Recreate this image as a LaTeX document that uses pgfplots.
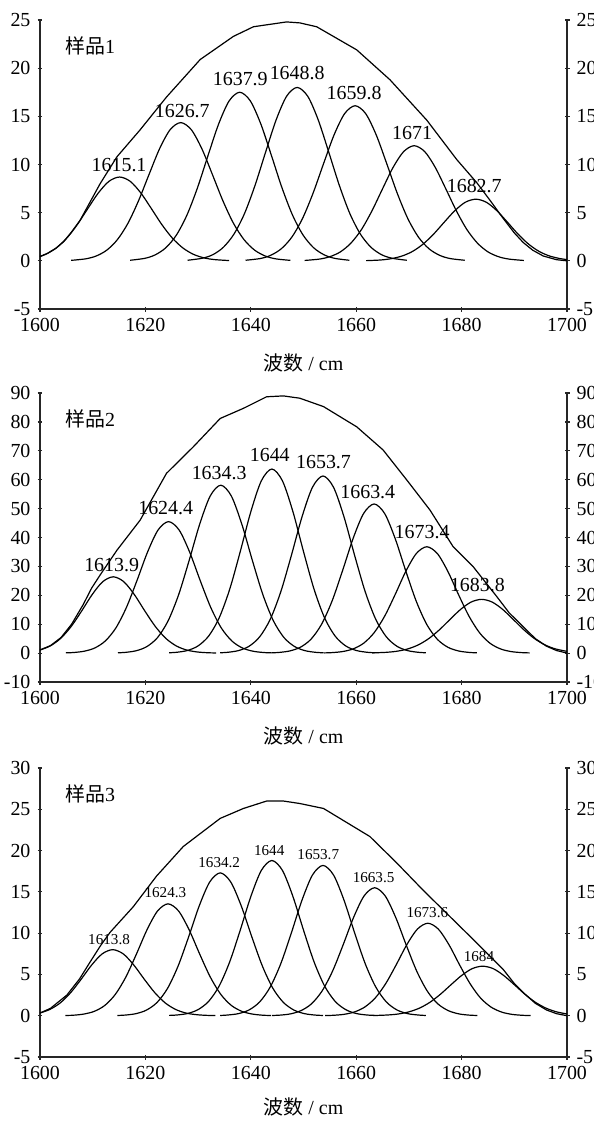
\documentclass[border=0pt]{standalone}
\usepackage{pgfplots}
\pgfplotsset{compat=1.18}
\usepackage{fontspec}
\setmainfont{Liberation Serif}
\newfontfamily\cjk{Noto Sans CJK SC}
\pgfplotsset{
  base/.style={scale only axis, width=263.5bp, height=144.5bp,
    xmin=1600, xmax=1700, xtick={1600,1620,...,1700},
    tick align=inside, major tick length=2.5bp,
    every tick/.style={black!85, line width=0.6bp},
    tick label style={font=\fontsize{10}{12}\selectfont},
    /pgf/number format/assume math mode=true,
    /pgf/number format/1000 sep={},
    clip=false},
  mainax/.style={base, axis x line=bottom, axis y line=left,
    axis line style={-, black!85, line width=0.6bp},
    x axis line style={-}, y axis line style={-},
    xlabel={{\cjk 波数} / cm},
    xlabel style={at={(axis description cs:0.5,0)}, anchor=center, yshift=-27bp, font=\fontsize{10}{12}\selectfont}},
  rightax/.style={base, axis x line=none, axis y line=right, xtick=\empty,
    axis line style={-, black!85, line width=0.6bp},
    x axis line style={-}, y axis line style={-}},
  cv/.style={black, line width=0.6bp, smooth, no markers},
  env/.style={black, line width=0.6bp, no markers}
}
\tikzset{
  pl/.style={anchor=base, font=\fontsize{10}{12}\selectfont, inner sep=0pt},
  pls/.style={anchor=base, font=\fontsize{7.6}{9}\selectfont, inner sep=0pt},
  samp/.style={anchor=west, font=\fontsize{10}{12}\selectfont, inner sep=0pt}
}
\begin{document}
\begin{tikzpicture}
\path[use as bounding box] (-20bp,-406.5bp) rectangle (277bp,154.5bp);
% ---------------- Panel 1 ----------------
\begin{axis}[rightax, at={(0,0)}, ymin=-5, ymax=25, ytick={-5,0,...,25}]
\end{axis}
\begin{axis}[mainax, at={(0,0)}, ymin=-5, ymax=25, ytick={-5,0,...,25}]
\addplot[env] coordinates {(1600,0.45) (1601.5,0.8) (1603,1.3) (1604.5,2.0) (1606,3.0) (1607.6,4.2) (1609.2,5.8) (1611.4,8.0) (1614.6,10.8) (1619.0,13.6) (1624.0,17.0) (1630.4,20.9) (1636.7,23.3) (1640.5,24.3) (1643.0,24.5) (1646.8,24.8) (1649.3,24.7) (1652.5,24.3) (1660.1,21.9) (1666.4,18.8) (1673.4,14.6) (1679.1,10.5) (1682.9,8.1) (1685.5,6.2) (1687.9,4.4) (1690,2.9) (1691.7,1.9) (1693.5,1.1) (1695.5,0.5) (1698,0.12) (1700,0)};
\addplot[cv] coordinates {(1600,0.45) (1601.1,0.68) (1603.1,1.34) (1605.1,2.37) (1607.1,3.78) (1609.1,5.45) (1611.1,7.07) (1613.1,8.26) (1615.1,8.7) (1617.1,8.26) (1619.1,7.07) (1621.1,5.45) (1623.1,3.78) (1625.1,2.37) (1627.1,1.34) (1629.1,0.68) (1631.1,0.31) (1633.1,0.13) (1635.9,0.03)};
\addplot[cv] coordinates {(1605.9,0.05) (1608.7,0.21) (1610.7,0.51) (1612.7,1.12) (1614.7,2.21) (1616.7,3.91) (1618.7,6.24) (1620.7,8.98) (1622.7,11.65) (1624.7,13.62) (1626.7,14.35) (1628.7,13.62) (1630.7,11.65) (1632.7,8.98) (1634.7,6.24) (1636.7,3.91) (1638.7,2.21) (1640.7,1.12) (1642.7,0.51) (1644.7,0.21) (1647.5,0.05)};
\addplot[cv] coordinates {(1617.1,0.06) (1619.9,0.26) (1621.9,0.63) (1623.9,1.37) (1625.9,2.69) (1627.9,4.77) (1629.9,7.61) (1631.9,10.96) (1633.9,14.21) (1635.9,16.61) (1637.9,17.5) (1639.9,16.61) (1641.9,14.21) (1643.9,10.96) (1645.9,7.61) (1647.9,4.77) (1649.9,2.69) (1651.9,1.37) (1653.9,0.63) (1655.9,0.26) (1658.7,0.06)};
\addplot[cv] coordinates {(1628.0,0.06) (1630.8,0.27) (1632.8,0.64) (1634.8,1.41) (1636.8,2.77) (1638.8,4.90) (1640.8,7.83) (1642.8,11.27) (1644.8,14.62) (1646.8,17.09) (1648.8,18.0) (1650.8,17.09) (1652.8,14.62) (1654.8,11.27) (1656.8,7.83) (1658.8,4.90) (1660.8,2.77) (1662.8,1.41) (1664.8,0.64) (1666.8,0.27) (1669.6,0.06)};
\addplot[cv] coordinates {(1639.0,0.06) (1641.8,0.24) (1643.8,0.58) (1645.8,1.26) (1647.8,2.47) (1649.8,4.38) (1651.8,7.00) (1653.8,10.08) (1655.8,13.07) (1657.8,15.28) (1659.8,16.1) (1661.8,15.28) (1663.8,13.07) (1665.8,10.08) (1667.8,7.00) (1669.8,4.38) (1671.8,2.47) (1673.8,1.26) (1675.8,0.58) (1677.8,0.24) (1680.6,0.06)};
\addplot[cv] coordinates {(1650.2,0.04) (1653,0.18) (1655,0.43) (1657,0.93) (1659,1.84) (1661,3.25) (1663,5.20) (1665,7.48) (1667,9.70) (1669,11.34) (1671,11.95) (1673,11.34) (1675,9.70) (1677,7.48) (1679,5.20) (1681,3.25) (1683,1.84) (1685,0.93) (1687,0.43) (1689,0.18) (1691.8,0.04)};
\addplot[cv] coordinates {(1661.9,0.02) (1664.7,0.09) (1666.7,0.23) (1668.7,0.50) (1670.7,0.98) (1672.7,1.74) (1674.7,2.78) (1676.7,4.01) (1678.7,5.20) (1680.7,6.08) (1682.7,6.4) (1684.7,6.08) (1686.7,5.20) (1688.7,4.01) (1690.7,2.78) (1692.7,1.74) (1694.7,0.98) (1696.7,0.50) (1698.7,0.23) (1700,0.13)};
\node[pl] at (axis cs:1615.0,9.26) {1615.1};
\node[pl] at (axis cs:1627.0,14.91) {1626.7};
\node[pl] at (axis cs:1638.0,18.15) {1637.9};
\node[pl] at (axis cs:1648.8,18.78) {1648.8};
\node[pl] at (axis cs:1659.6,16.70) {1659.8};
\node[pl] at (axis cs:1670.6,12.55) {1671};
\node[pl] at (axis cs:1682.4,7.08) {1682.7};
\node[samp] at (axis description cs:0.047,0.912) {{\cjk 样品}1};
\end{axis}
% ---------------- Panel 2 ----------------
\begin{axis}[rightax, at={(0,-186.5bp)}, ymin=-10, ymax=90, ytick={-10,0,...,90}]
\end{axis}
\begin{axis}[mainax, at={(0,-186.5bp)}, ymin=-10, ymax=90, ytick={-10,0,...,90}]
\addplot[env] coordinates {(1600,1.1) (1602,2.6) (1604,5.4) (1606,10.0) (1608.2,16.8) (1609.8,22.5) (1611.4,27.0) (1614.6,35.6) (1619.0,46.0) (1624.0,62.2) (1629.1,71.4) (1634.2,81.2) (1638.6,84.7) (1643.0,88.7) (1646.2,89.0) (1649.3,88.2) (1653.8,85.3) (1660.1,78.3) (1665.1,70.3) (1669.6,59.9) (1674.0,49.5) (1678.4,36.8) (1682.2,29.9) (1686.7,19.5) (1689,14.0) (1691.7,9.1) (1694,5.0) (1696.1,2.4) (1698,0.9) (1700,0)};
\addplot[cv] coordinates {(1600,1.08) (1601.9,2.44) (1603.9,5.06) (1605.9,9.17) (1607.9,14.56) (1609.9,20.26) (1611.9,24.71) (1613.9,26.4) (1615.9,24.71) (1617.9,20.26) (1619.9,14.56) (1621.9,9.17) (1623.9,5.06) (1625.9,2.44) (1627.9,1.03) (1629.9,0.38) (1631.9,0.12) (1633.4,0.05)};
\addplot[cv] coordinates {(1604.9,0.09) (1606.4,0.21) (1608.4,0.66) (1610.4,1.78) (1612.4,4.21) (1614.4,8.71) (1616.4,15.80) (1618.4,25.10) (1620.4,34.93) (1622.4,42.59) (1624.4,45.5) (1626.4,42.59) (1628.4,34.93) (1630.4,25.10) (1632.4,15.80) (1634.4,8.71) (1636.4,4.21) (1638.4,1.78) (1640.4,0.66) (1642.4,0.21) (1643.9,0.09)};
\addplot[cv] coordinates {(1614.8,0.11) (1616.3,0.27) (1618.3,0.84) (1620.3,2.28) (1622.3,5.37) (1624.3,11.13) (1626.3,20.17) (1628.3,32.05) (1630.3,44.60) (1632.3,54.38) (1634.3,58.1) (1636.3,54.38) (1638.3,44.60) (1640.3,32.05) (1642.3,20.17) (1644.3,11.13) (1646.3,5.37) (1648.3,2.28) (1650.3,0.84) (1652.3,0.27) (1653.8,0.11)};
\addplot[cv] coordinates {(1624.5,0.12) (1626,0.30) (1628,0.92) (1630,2.50) (1632,5.89) (1634,12.20) (1636,22.12) (1638,35.14) (1640,48.90) (1642,59.62) (1644,63.7) (1646,59.62) (1648,48.90) (1650,35.14) (1652,22.12) (1654,12.20) (1656,5.89) (1658,2.50) (1660,0.92) (1662,0.30) (1663.5,0.12)};
\addplot[cv] coordinates {(1634.2,0.12) (1635.7,0.29) (1637.7,0.89) (1639.7,2.40) (1641.7,5.67) (1643.7,11.74) (1645.7,21.28) (1647.7,33.81) (1649.7,47.05) (1651.7,57.38) (1653.7,61.3) (1655.7,57.38) (1657.7,47.05) (1659.7,33.81) (1661.7,21.28) (1663.7,11.74) (1665.7,5.67) (1667.7,2.40) (1669.7,0.89) (1671.7,0.29) (1673.2,0.12)};
\addplot[cv] coordinates {(1643.9,0.10) (1645.4,0.24) (1647.4,0.75) (1649.4,2.02) (1651.4,4.77) (1653.4,9.88) (1655.4,17.92) (1657.4,28.46) (1659.4,39.61) (1661.4,48.30) (1663.4,51.6) (1665.4,48.30) (1667.4,39.61) (1669.4,28.46) (1671.4,17.92) (1673.4,9.88) (1675.4,4.77) (1677.4,2.02) (1679.4,0.75) (1681.4,0.24) (1682.9,0.10)};
\addplot[cv] coordinates {(1653.9,0.07) (1655.4,0.17) (1657.4,0.53) (1659.4,1.44) (1661.4,3.40) (1663.4,7.05) (1665.4,12.78) (1667.4,20.30) (1669.4,28.25) (1671.4,34.44) (1673.4,36.8) (1675.4,34.44) (1677.4,28.25) (1679.4,20.30) (1681.4,12.78) (1683.4,7.05) (1685.4,3.40) (1687.4,1.44) (1689.4,0.53) (1691.4,0.17) (1692.9,0.07)};
\addplot[cv] coordinates {(1663.0,0.07) (1665.8,0.28) (1667.8,0.67) (1669.8,1.45) (1671.8,2.86) (1673.8,5.06) (1675.8,8.09) (1677.8,11.65) (1679.8,15.11) (1681.8,17.66) (1683.8,18.6) (1685.8,17.66) (1687.8,15.11) (1689.8,11.65) (1691.8,8.09) (1693.8,5.06) (1695.8,2.86) (1697.8,1.45) (1700,0.61)};
\node[pl] at (axis cs:1613.6,28.1) {1613.9};
\node[pl] at (axis cs:1623.85,47.8) {1624.4};
\node[pl] at (axis cs:1634.0,60.1) {1634.3};
\node[pl] at (axis cs:1643.6,66.2) {1644};
\node[pl] at (axis cs:1653.8,63.9) {1653.7};
\node[pl] at (axis cs:1662.2,53.5) {1663.4};
\node[pl] at (axis cs:1672.5,39.7) {1673.4};
\node[pl] at (axis cs:1683.0,21.2) {1683.8};
\node[samp] at (axis description cs:0.047,0.909) {{\cjk 样品}2};
\end{axis}
% ---------------- Panel 3 ----------------
\begin{axis}[rightax, at={(0,-374bp)}, ymin=-5, ymax=30, ytick={-5,0,...,30}]
\end{axis}
\begin{axis}[mainax, at={(0,-374bp)}, ymin=-5, ymax=30, ytick={-5,0,...,30},
  xlabel style={yshift=2bp}]
\addplot[env] coordinates {(1600,0.32) (1602,0.9) (1605.1,2.5) (1607.5,4.45) (1609.5,6.5) (1611.5,8.5) (1613.3,10.1) (1617.7,13.2) (1622.1,16.9) (1627.2,20.5) (1634.2,23.9) (1638.6,25.1) (1643.0,26.0) (1646.2,26.0) (1649.3,25.7) (1653.8,25.1) (1662.6,21.7) (1667.7,18.5) (1672.7,15.2) (1677.8,12.0) (1682.9,8.8) (1687.9,5.6) (1690,3.9) (1691.7,2.8) (1694,1.5) (1696.1,0.7) (1698,0.25) (1700,0)};
\addplot[cv] coordinates {(1600,0.34) (1601.8,0.74) (1603.8,1.53) (1605.8,2.78) (1607.8,4.41) (1609.8,6.14) (1611.8,7.49) (1613.8,8.0) (1615.8,7.49) (1617.8,6.14) (1619.8,4.41) (1621.8,2.78) (1623.8,1.53) (1625.8,0.74) (1627.8,0.31) (1629.8,0.12) (1631.8,0.04) (1633.3,0.02)};
\addplot[cv] coordinates {(1604.8,0.03) (1606.3,0.06) (1608.3,0.20) (1610.3,0.53) (1612.3,1.25) (1614.3,2.59) (1616.3,4.70) (1618.3,7.47) (1620.3,10.40) (1622.3,12.68) (1624.3,13.55) (1626.3,12.68) (1628.3,10.40) (1630.3,7.47) (1632.3,4.70) (1634.3,2.59) (1636.3,1.25) (1638.3,0.53) (1640.3,0.20) (1642.3,0.06) (1643.8,0.03)};
\addplot[cv] coordinates {(1614.7,0.03) (1616.2,0.08) (1618.2,0.25) (1620.2,0.68) (1622.2,1.60) (1624.2,3.31) (1626.2,6.01) (1628.2,9.54) (1630.2,13.28) (1632.2,16.19) (1634.2,17.3) (1636.2,16.19) (1638.2,13.28) (1640.2,9.54) (1642.2,6.01) (1644.2,3.31) (1646.2,1.60) (1648.2,0.68) (1650.2,0.25) (1652.2,0.08) (1653.7,0.03)};
\addplot[cv] coordinates {(1624.5,0.04) (1626,0.09) (1628,0.27) (1630,0.74) (1632,1.74) (1634,3.60) (1636,6.53) (1638,10.37) (1640,14.43) (1642,17.60) (1644,18.8) (1646,17.60) (1648,14.43) (1650,10.37) (1652,6.53) (1654,3.60) (1656,1.74) (1658,0.74) (1660,0.27) (1662,0.09) (1663.5,0.04)};
\addplot[cv] coordinates {(1634.2,0.03) (1635.7,0.09) (1637.7,0.26) (1639.7,0.71) (1641.7,1.68) (1643.7,3.49) (1645.7,6.32) (1647.7,10.04) (1649.7,13.97) (1651.7,17.04) (1653.7,18.2) (1655.7,17.04) (1657.7,13.97) (1659.7,10.04) (1661.7,6.32) (1663.7,3.49) (1665.7,1.68) (1667.7,0.71) (1669.7,0.26) (1671.7,0.09) (1673.2,0.03)};
\addplot[cv] coordinates {(1644,0.03) (1645.5,0.07) (1647.5,0.22) (1649.5,0.61) (1651.5,1.43) (1653.5,2.97) (1655.5,5.38) (1657.5,8.55) (1659.5,11.90) (1661.5,14.51) (1663.5,15.5) (1665.5,14.51) (1667.5,11.90) (1669.5,8.55) (1671.5,5.38) (1673.5,2.97) (1675.5,1.43) (1677.5,0.61) (1679.5,0.22) (1681.5,0.07) (1683,0.03)};
\addplot[cv] coordinates {(1654.1,0.02) (1655.6,0.05) (1657.6,0.16) (1659.6,0.44) (1661.6,1.04) (1663.6,2.14) (1665.6,3.89) (1667.6,6.18) (1669.6,8.60) (1671.6,10.48) (1673.6,11.2) (1675.6,10.48) (1677.6,8.60) (1679.6,6.18) (1681.6,3.89) (1683.6,2.14) (1685.6,1.04) (1687.6,0.44) (1689.6,0.16) (1691.6,0.05) (1693.1,0.02)};
\addplot[cv] coordinates {(1663.2,0.02) (1666,0.09) (1668,0.21) (1670,0.47) (1672,0.92) (1674,1.63) (1676,2.61) (1678,3.76) (1680,4.87) (1682,5.70) (1684,6.0) (1686,5.70) (1688,4.87) (1690,3.76) (1692,2.61) (1694,1.63) (1696,0.92) (1698,0.47) (1700,0.21)};
\node[pls] at (axis cs:1613.1,8.59) {1613.8};
\node[pls] at (axis cs:1623.8,14.27) {1624.3};
\node[pls] at (axis cs:1634.0,17.99) {1634.2};
\node[pls] at (axis cs:1643.5,19.39) {1644};
\node[pls] at (axis cs:1652.8,18.87) {1653.7};
\node[pls] at (axis cs:1663.3,16.12) {1663.5};
\node[pls] at (axis cs:1673.5,11.89) {1673.6};
\node[pls] at (axis cs:1683.3,6.57) {1684};
\node[samp] at (axis description cs:0.047,0.912) {{\cjk 样品}3};
\end{axis}
\end{tikzpicture}
\end{document}
